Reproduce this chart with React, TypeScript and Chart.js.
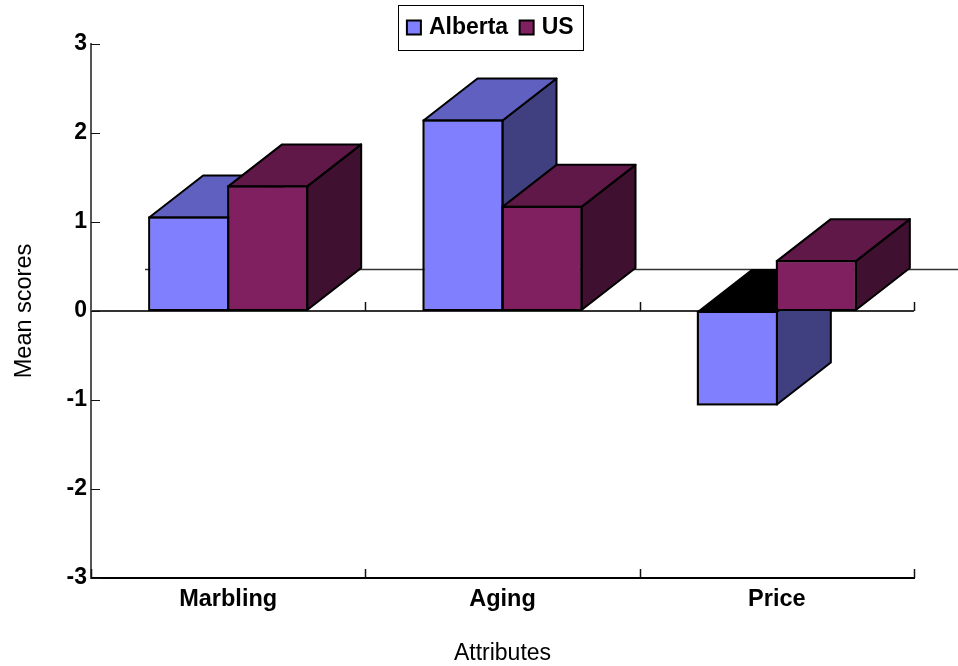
import React, { useEffect, useRef } from "react";
import { Chart, registerables } from "chart.js";

Chart.register(...registerables);

const attributes = ["Marbling", "Aging", "Price"];
const albertaScores = [1.05, 2.14, -1.05];
const usScores = [1.4, 1.17, 0.56];

const frontColors = ["#8080FF", "#802060"];
const topColors = ["#6060C0", "#601848"];
const sideColors = ["#404080", "#401030"];
const underColor = "#000000";

const FONT = "'Liberation Sans', Arial, sans-serif";
const DEPTH_X = 54;
const DEPTH_Y = 42;
const TICK_LEN = 9;

function polygon(ctx: CanvasRenderingContext2D, pts: number[][], fill: string) {
  ctx.beginPath();
  pts.forEach(([x, y], i) => (i ? ctx.lineTo(x, y) : ctx.moveTo(x, y)));
  ctx.closePath();
  ctx.fillStyle = fill;
  ctx.fill();
  ctx.stroke();
}

function barRect(bar: any) {
  const { x, y, base, width } = bar.getProps(["x", "y", "base", "width"], true);
  return {
    l: x - width / 2,
    r: x + width / 2,
    t: Math.min(y, base),
    b: Math.max(y, base),
  };
}

// Extruded faces, axis furniture and the legend frame.
const extrusion = {
  id: "extrusion",
  afterLayout(chart: any) {
    const legend = chart.legend;
    legend.top = 1;
    legend.bottom = 57;
    legend.left = 40;
    legend.right = 944;
  },
  beforeDatasetsDraw(chart: any) {
    const { ctx, scales, chartArea } = chart;
    const { y: ys } = scales;
    const zero = Math.round(ys.getPixelForValue(0));

    ctx.save();
    ctx.lineCap = "butt";

    // Back wall baseline
    ctx.strokeStyle = "#333333";
    ctx.lineWidth = 1.5;
    ctx.beginPath();
    ctx.moveTo(chartArea.left + DEPTH_X, zero - DEPTH_Y + 0.5);
    ctx.lineTo(chart.width, zero - DEPTH_Y + 0.5);
    ctx.stroke();

    // Tick marks on the zero line and the lower axis
    const step = chartArea.width / attributes.length;
    ctx.strokeStyle = "#111111";
    ctx.lineWidth = 1.5;
    for (let i = 0; i <= attributes.length; i++) {
      const px = Math.round(chartArea.left + i * step) + 0.5;
      for (const base of [zero, Math.round(chartArea.bottom)]) {
        if (i === 0 && base === zero) continue;
        ctx.beginPath();
        ctx.moveTo(px, base);
        ctx.lineTo(px, base - TICK_LEN);
        ctx.stroke();
      }
    }
    ctx.lineWidth = 1;
    ys.ticks.forEach((tick: any) => {
      const py = Math.round(ys.getPixelForValue(tick.value)) + 0.5;
      ctx.beginPath();
      ctx.moveTo(chartArea.left, py);
      ctx.lineTo(chartArea.left + TICK_LEN, py);
      ctx.stroke();
    });

    // Side and top faces, first series underneath the second
    ctx.strokeStyle = "#000000";
    ctx.lineWidth = 2;
    ctx.lineJoin = "round";
    chart.data.datasets.forEach((ds: any, d: number) => {
      chart.getDatasetMeta(d).data.forEach((bar: any, i: number) => {
        const { l, r, t, b } = barRect(bar);
        polygon(ctx, [[r, t], [r + DEPTH_X, t - DEPTH_Y], [r + DEPTH_X, b - DEPTH_Y], [r, b]], sideColors[d]);
        polygon(
          ctx,
          [[l, t], [l + DEPTH_X, t - DEPTH_Y], [r + DEPTH_X, t - DEPTH_Y], [r, t]],
          ds.data[i] < 0 ? underColor : topColors[d],
        );
      });
    });
    ctx.restore();
  },
  afterDatasetsDraw(chart: any) {
    const { ctx } = chart;
    ctx.save();
    ctx.strokeStyle = "#000000";
    ctx.lineWidth = 2;
    chart.data.datasets.forEach((_: any, d: number) => {
      chart.getDatasetMeta(d).data.forEach((bar: any) => {
        const { l, r, t, b } = barRect(bar);
        ctx.strokeRect(l, t, r - l, b - t);
      });
    });
    ctx.restore();
  },
  afterDraw(chart: any) {
    const { ctx } = chart;
    ctx.save();
    ctx.strokeStyle = "#000000";
    ctx.lineWidth = 1;
    ctx.strokeRect(398.5, 5.5, 185, 45);
    ctx.restore();
  },
};

export default function App() {
  const canvasRef = useRef<HTMLCanvasElement>(null);

  useEffect(() => {
    const chart = new Chart(canvasRef.current!, {
      type: "bar",
      data: {
        labels: attributes,
        datasets: [
          { label: "Alberta", data: albertaScores, backgroundColor: frontColors[0], borderColor: "#000000", borderWidth: 1 },
          { label: "US", data: usScores, backgroundColor: frontColors[1], borderColor: "#000000", borderWidth: 1 },
        ],
      },
      plugins: [extrusion],
      options: {
        responsive: false,
        animation: false,
        layout: { padding: { top: -4, left: 0, right: 44, bottom: 0 } },
        datasets: { bar: { categoryPercentage: 0.576, barPercentage: 1 } },
        plugins: {
          tooltip: { enabled: false },
          legend: {
            display: true,
            position: "top",
            labels: {
              color: "#000000",
              font: { family: FONT, size: 23, weight: "bold" },
              usePointStyle: true,
              pointStyle: "rect",
              boxWidth: 7,
              boxHeight: 14,
              padding: 15,
              generateLabels(chart: any) {
                return Chart.defaults.plugins.legend.labels
                  .generateLabels(chart)
                  .map((item: any) => ({ ...item, lineWidth: 2, pointStyle: "rect" }));
              },
            },
          },
        },
        scales: {
          x: {
            grid: { display: false, drawTicks: false },
            border: { display: true, color: "#000000", width: 2 },
            ticks: {
              color: "#000000",
              padding: 7,
              maxRotation: 0,
              font: { family: FONT, size: 23.5, weight: "bold" },
            },
            title: {
              display: true,
              text: "Attributes",
              color: "#000000",
              font: { family: FONT, size: 23 },
              padding: { top: 0, bottom: -1 },
            },
            afterFit(scale: any) {
              scale.height = 88;
            },
          },
          y: {
            min: -3,
            max: 3,
            grid: {
              drawTicks: false,
              lineWidth: 2,
              color: (c: any) => (c.tick && c.tick.value === 0 ? "#333333" : "rgba(0,0,0,0)"),
            },
            border: { display: true, color: "#555555", width: 2 },
            ticks: {
              stepSize: 1,
              color: "#000000",
              padding: 4,
              font: { family: FONT, size: 23, weight: "bold" },
            },
            title: {
              display: true,
              text: "Mean scores",
              color: "#000000",
              font: { family: FONT, size: 23.5 },
              padding: { top: 10, bottom: 0 },
            },
            afterFit(scale: any) {
              scale.width = 91;
            },
          },
        },
      } as any,
    });
    return () => chart.destroy();
  }, []);

  return (
    <div style={{ position: "absolute", left: 0, top: 0, width: 958, height: 666, background: "#ffffff" }}>
      <canvas ref={canvasRef} width={958} height={666} style={{ display: "block" }} />
    </div>
  );
}
